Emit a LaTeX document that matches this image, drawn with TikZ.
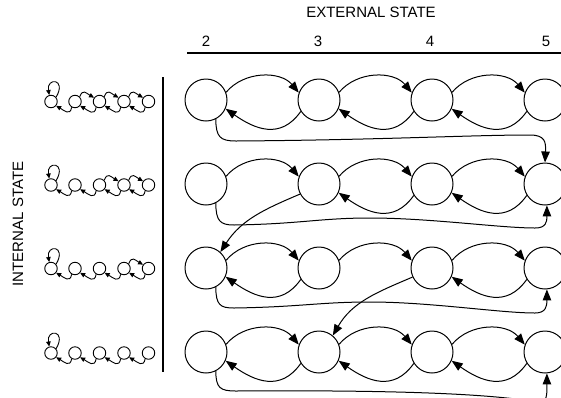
\documentclass[tikz,border=0pt]{standalone}
\usepackage{fontspec}
\setmainfont{Liberation Sans}
\usetikzlibrary{arrows.meta}
\newcommand\mytoparc[2]{\draw[arr] (#1.21) to[out=50,in=130] (#2.160);}
\newcommand\mybotarc[2]{\draw[arr] (#1.212) to[out=235,in=-35,looseness=1.2] (#2.-24);}
\begin{document}
\begin{tikzpicture}[x=1pt,y=1pt,
  big/.style={circle,draw,line width=1pt,minimum size=42pt,inner sep=0pt},
  small/.style={circle,draw,line width=0.9pt,minimum size=12.5pt,inner sep=0pt},
  arr/.style={line width=1pt,-{Triangle[length=11pt,width=8.5pt]}},
  sarr/.style={line width=0.9pt,-{Triangle[length=5pt,width=4.5pt]}},
  rule/.style={line width=1.1pt},
  lbl/.style={font=\fontsize{15}{18}\selectfont,inner sep=0pt}]
\useasboundingbox (0,0) rectangle (561,-397);
\clip (0,0) rectangle (561,-397);
% header
\node[lbl] (ext) at (371,-12.5) {EXTERNAL STATE};
\node[lbl] (n2) at (206,-41) {2};
\node[lbl] (n3) at (318,-41) {3};
\node[lbl] (n4) at (430,-41) {4};
\node[lbl] (n5) at (546,-41) {5};
\coordinate (hl) at (187,-53);
\coordinate (hr) at (561,-53);
\draw[rule] (hl) -- (hr);
\node[lbl,rotate=90] (int) at (18,-224) {INTERNAL STATE};
\coordinate (vt) at (163,-77);
\coordinate (vb) at (163,-372);
\draw[rule] (vt) -- (vb);
% big nodes
\foreach \r/\y in {1/100,2/184,3/268,4/352}
  \foreach \c/\x in {2/206,3/319,4/432,5/545}
    \node[big] (r\r-\c) at (\x,-\y) {};
% row 1
\mytoparc{r1-2}{r1-3} \mytoparc{r1-3}{r1-4} \mytoparc{r1-4}{r1-5}
\mybotarc{r1-3}{r1-2} \mybotarc{r1-4}{r1-3} \mybotarc{r1-5}{r1-4}
% row 2
\mytoparc{r2-2}{r2-3} \mytoparc{r2-3}{r2-4} \mytoparc{r2-4}{r2-5}
\mybotarc{r2-4}{r2-3} \mybotarc{r2-5}{r2-4}
% row 3
\mytoparc{r3-2}{r3-3} \mytoparc{r3-3}{r3-4} \mytoparc{r3-4}{r3-5}
\mybotarc{r3-3}{r3-2} \mybotarc{r3-5}{r3-4}
% row 4
\mytoparc{r4-2}{r4-3} \mytoparc{r4-3}{r4-4} \mytoparc{r4-4}{r4-5}
\mybotarc{r4-3}{r4-2} \mybotarc{r4-4}{r4-3} \mybotarc{r4-5}{r4-4}
% diagonals
\draw[arr] (r2-3.208) to[out=203,in=57] (r3-2.48);
\draw[arr] (r3-4.205) to[out=203,in=60] (r4-3.50);
% long connectors
\draw[arr] (r1-2.-63) .. controls (216,-137) and (220,-141) .. (236,-141)
  .. controls (380,-140) and (470,-135) .. (530,-135)
  .. controls (545,-135) and (546,-142) .. (r2-5.north);
\draw[arr] (r2-2.-63) .. controls (216,-221) and (220,-225) .. (234,-225)
  .. controls (300,-224) and (320,-218) .. (370,-218)
  .. controls (430,-218) and (500,-228) .. (535,-228)
  .. controls (546,-228) and (547,-222) .. (r2-5.-85);
\draw[arr] (r3-2.-63) .. controls (216,-305) and (220,-308) .. (234,-308)
  .. controls (300,-307) and (320,-302) .. (370,-302)
  .. controls (430,-302) and (500,-313) .. (535,-313)
  .. controls (546,-313) and (547,-306) .. (r3-5.-85);
\draw[arr] (r4-2.-63) .. controls (216,-388) and (220,-391) .. (236,-391)
  .. controls (380,-390) and (480,-393) .. (530,-401)
  .. controls (547,-404) and (547,-400) .. (r4-5.-85);
% small diagrams
\foreach \r/\y in {1/101.5,2/185,3/268.5,4/353}{
  \foreach \i/\x in {1/51,2/75,3/99.5,4/124,5/148.5}
    \node[small] (s\r-\i) at (\x,-\y) {};
  \draw[sarr] (s\r-1.40) .. controls +(60:22) and +(100:18) .. (s\r-1.105);
  \foreach \i/\j in {1/2,2/3,3/4,4/5}
    \draw[sarr] (s\r-\j.-120) to[out=-100,in=-30,looseness=1.5] (s\r-\i.-40);
}
\foreach \r/\i/\j in {1/2/3,1/3/4,1/4/5,2/3/4,2/4/5,3/4/5}
  \draw[sarr] (s\r-\i.45) to[out=70,in=150,looseness=1.6] (s\r-\j.145);
\end{tikzpicture}
\end{document}
